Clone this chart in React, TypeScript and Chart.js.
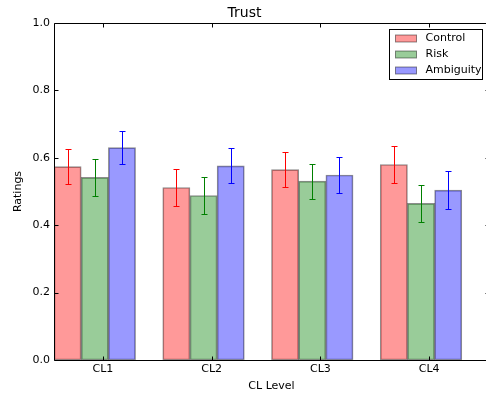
import { useEffect, useRef } from "react";
import { Chart, registerables } from "chart.js";

Chart.register(...registerables);

const categories = ["CL1", "CL2", "CL3", "CL4"];
const seriesNames = ["Control", "Risk", "Ambiguity"];
const controlValues = [0.574, 0.512, 0.565, 0.58];
const controlErrors = [0.053, 0.055, 0.052, 0.056];
const riskValues = [0.542, 0.488, 0.531, 0.465];
const riskErrors = [0.054, 0.056, 0.052, 0.055];
const ambiguityValues = [0.63, 0.576, 0.549, 0.504];
const ambiguityErrors = [0.049, 0.052, 0.053, 0.056];
const yTickValues = [0, 0.2, 0.4, 0.6, 0.8, 1.0];
const chartTitle = "Trust";
const xTitle = "CL Level";
const yTitle = "Ratings";

const barWidth = 0.25;
const xTickOffset = 0.45;
const fillColors = ["rgba(255,0,0,0.4)", "rgba(0,128,0,0.4)", "rgba(0,0,255,0.4)"];
const errColors = ["rgb(255,0,0)", "rgb(0,128,0)", "rgb(0,0,255)"];
const edgeColor = "rgba(0,0,0,0.45)";
const FONT = "'DejaVu Sans', sans-serif";

const seriesValues = [controlValues, riskValues, ambiguityValues];
const seriesErrors = [controlErrors, riskErrors, ambiguityErrors];

const frameAndErrorPlugin = {
  id: "frameAndError",
  afterDatasetsDraw(chart: any) {
    const ctx = chart.ctx;
    const y = chart.scales.y;
    ctx.save();
    ctx.lineWidth = 1;
    chart.data.datasets.forEach((ds: any, di: number) => {
      const meta = chart.getDatasetMeta(di);
      meta.data.forEach((bar: any, i: number) => {
        const v = ds.data[i].y;
        const e = ds.errors[i];
        const x = Math.round(bar.x) + 0.5;
        const yt = Math.round(y.getPixelForValue(v + e)) + 0.5;
        const yb = Math.round(y.getPixelForValue(v - e)) + 0.5;
        ctx.strokeStyle = errColors[di];
        ctx.beginPath();
        ctx.moveTo(x, yt);
        ctx.lineTo(x, yb);
        ctx.moveTo(x - 3, yt);
        ctx.lineTo(x + 3, yt);
        ctx.moveTo(x - 3, yb);
        ctx.lineTo(x + 3, yb);
        ctx.stroke();
      });
    });
    ctx.restore();
  },
  afterDraw(chart: any) {
    const ctx = chart.ctx;
    const a = chart.chartArea;
    const y = chart.scales.y;
    const xt = chart.scales.xt;
    ctx.save();
    ctx.strokeStyle = "#000";
    ctx.lineWidth = 1;
    const L = Math.round(a.left) + 0.5;
    const R = Math.round(a.right) + 0.5;
    const T = Math.round(a.top) + 0.5;
    const B = Math.round(a.bottom) + 0.5;
    ctx.beginPath();
    ctx.rect(L, T, R - L, B - T);
    ctx.stroke();
    ctx.beginPath();
    yTickValues.forEach((t) => {
      const py = Math.round(y.getPixelForValue(t)) + 0.5;
      ctx.moveTo(L, py);
      ctx.lineTo(L + 4, py);
      ctx.moveTo(R, py);
      ctx.lineTo(R - 4, py);
    });
    categories.forEach((_, i) => {
      const px = Math.round(xt.getPixelForValue(i + xTickOffset)) + 0.5;
      ctx.moveTo(px, B);
      ctx.lineTo(px, B - 4);
      ctx.moveTo(px, T);
      ctx.lineTo(px, T + 4);
    });
    ctx.stroke();

    // legend
    const bw = 93;
    const bh = 50;
    const bx = Math.round(a.right - 7 - bw) + 0.5;
    const by = Math.round(a.top + 6) + 0.5;
    ctx.fillStyle = "#fff";
    ctx.fillRect(bx, by, bw, bh);
    ctx.strokeStyle = "#000";
    ctx.strokeRect(bx, by, bw, bh);
    ctx.font = `11px ${FONT}`;
    ctx.textBaseline = "middle";
    ctx.textAlign = "left";
    chart.data.datasets.forEach((ds: any, di: number) => {
      const cy = by + 9 + di * 16;
      ctx.fillStyle = ds.backgroundColor;
      ctx.fillRect(bx + 6, cy - 3.5, 21, 7);
      ctx.strokeStyle = edgeColor;
      ctx.strokeRect(bx + 6, cy - 3.5, 21, 7);
      ctx.fillStyle = "#000";
      ctx.fillText(ds.label, bx + 36, cy);
    });
    ctx.restore();
  },
};

export default function App() {
  const ref = useRef<HTMLCanvasElement | null>(null);
  useEffect(() => {
    if (!ref.current) return;
    Chart.defaults.font.family = FONT;
    Chart.defaults.color = "#000";
    const datasets = seriesNames.map((name, di) => ({
      label: name,
      data: seriesValues[di].map((v, i) => ({ x: i + barWidth * di + barWidth / 2, y: v })),
      errors: seriesErrors[di],
      backgroundColor: fillColors[di],
      borderColor: edgeColor,
      borderWidth: 1,
      borderSkipped: false,
      grouped: false,
      categoryPercentage: 1,
      barPercentage: 1,
      xAxisID: "x",
      yAxisID: "y",
    }));
    const chart = new Chart(ref.current, {
      type: "bar",
      data: { datasets } as any,
      options: {
        responsive: false,
        animation: false,
        layout: { padding: { left: 0, right: 7, top: 0, bottom: 0 } },
        plugins: {
          legend: { display: false },
          tooltip: { enabled: false },
          title: {
            display: true,
            text: chartTitle,
            color: "#000",
            font: { size: 14, weight: "normal", family: FONT },
            padding: { top: 4.6, bottom: 1.6 },
          },
        },
        scales: {
          x: {
            type: "linear",
            min: 0,
            max: categories.length,
            offset: false,
            display: false,
            afterBuildTicks: (axis: any) => {
              axis.ticks = [];
            },
          },
          xt: {
            type: "linear",
            position: "bottom",
            min: 0,
            max: categories.length,
            offset: false,
            grid: { display: false, drawTicks: false, offset: false },
            border: { display: false },
            afterBuildTicks: (axis: any) => {
              axis.ticks = categories.map((_, i) => ({ value: i + xTickOffset }));
            },
            afterFit: (axis: any) => {
              axis.height = 39;
            },
            ticks: {
              autoSkip: false,
              maxRotation: 0,
              padding: 3,
              font: { size: 11, family: FONT },
              color: "#000",
              callback: (_v: any, idx: number) => categories[idx],
            },
            title: {
              display: true,
              text: xTitle,
              color: "#000",
              font: { size: 11, family: FONT },
              padding: { top: 0, bottom: 6.4 },
            },
          },
          y: {
            type: "linear",
            min: 0,
            max: 1,
            grid: { display: false, drawTicks: false },
            border: { display: false },
            afterBuildTicks: (axis: any) => {
              axis.ticks = yTickValues.map((v) => ({ value: v }));
            },
            afterFit: (axis: any) => {
              axis.width = 54;
            },
            ticks: {
              padding: 4,
              font: { size: 11, family: FONT },
              color: "#000",
              callback: (v: any) => Number(v).toFixed(1),
            },
            title: {
              display: true,
              text: yTitle,
              color: "#000",
              font: { size: 11, family: FONT },
              padding: { top: 11.4, bottom: 0 },
            },
          },
        },
      } as any,
      plugins: [frameAndErrorPlugin],
    });
    return () => chart.destroy();
  }, []);
  return (
    <div style={{ position: "absolute", left: 0, top: 0, width: 486, height: 399, overflow: "hidden", background: "#fff" }}>
      <canvas ref={ref} width={496} height={399} style={{ display: "block", width: 496, height: 399 }} />
    </div>
  );
}
